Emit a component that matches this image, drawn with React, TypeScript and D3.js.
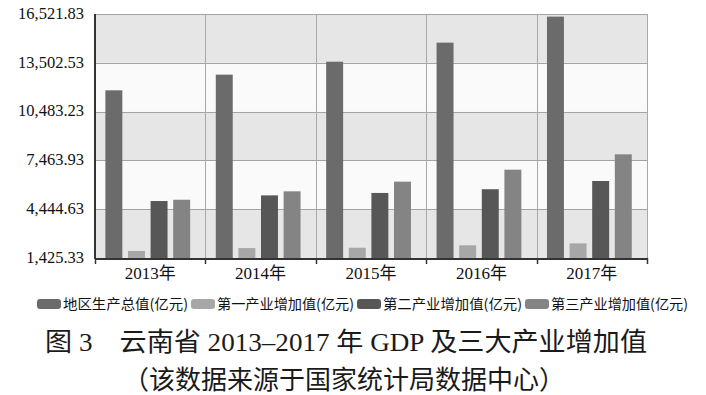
import { useEffect, useRef } from "react"
import * as d3 from "d3"

// values (亿元)
const categories = ["2013年", "2014年", "2015年", "2016年", "2017年"]
const seriesNames = ["地区生产总值(亿元)", "第一产业增加值(亿元)", "第二产业增加值(亿元)", "第三产业增加值(亿元)"]
const gdp = [11800, 12770, 13570, 14750, 16360]
const primary = [1860, 2040, 2060, 2210, 2330]
const secondary = [4950, 5300, 5450, 5680, 6190]
const tertiary = [5030, 5550, 6150, 6890, 7840]
const yTicks = [1425.33, 4444.63, 7463.93, 10483.23, 13502.53, 16521.83]

const seriesColors = ["#6b6b6b", "#a7a7a7", "#575757", "#848484"]
const serif = "'Liberation Serif', 'Noto Sans CJK SC', serif"
const cjk = "'Noto Sans CJK SC', 'Liberation Serif', sans-serif"

export default function App() {
  const svgRef = useRef<SVGSVGElement>(null)

  useEffect(() => {
    if (!svgRef.current) return
    const svg = d3.select(svgRef.current)
    svg.selectAll("*").remove()

    const width = 706
    const margin = { top: 14, right: 59, bottom: 137, left: 95 }
    const height = 395
    const innerW = width - margin.left - margin.right
    const innerH = height - margin.top - margin.bottom

    const series = [gdp, primary, secondary, tertiary]

    const x0 = d3.scaleBand().domain(categories).range([0, innerW]).padding(0)
    const x1 = d3
      .scaleBand()
      .domain(seriesNames)
      .range([x0.bandwidth() * 0.094, x0.bandwidth() * 0.862])
      .paddingInner(0.25)
      .paddingOuter(0)
    const y = d3.scaleLinear().domain([yTicks[0], yTicks[yTicks.length - 1]]).range([innerH, 0])

    const g = svg.append("g").attr("transform", `translate(${margin.left},${margin.top})`)

    // alternating background bands
    g.selectAll(".band")
      .data(d3.pairs(yTicks))
      .join("rect")
      .attr("x", 0)
      .attr("width", innerW)
      .attr("y", (d) => y(d[1]))
      .attr("height", (d) => y(d[0]) - y(d[1]))
      .attr("fill", (_, i) => (i % 2 === 0 ? "#e6e6e6" : "#fafafa"))

    // horizontal grid
    g.selectAll(".hgrid")
      .data(yTicks.slice(1))
      .join("line")
      .attr("x1", 0)
      .attr("x2", innerW)
      .attr("y1", (d) => Math.round(y(d)) + 0.5)
      .attr("y2", (d) => Math.round(y(d)) + 0.5)
      .attr("stroke", "#a3a3a3")
      .attr("stroke-width", 1)

    // vertical grid at category boundaries
    const bounds = categories.map((c) => x0(c)!).concat([innerW])
    g.selectAll(".vgrid")
      .data(bounds.slice(1))
      .join("line")
      .attr("x1", (d) => Math.round(d) + 0.5)
      .attr("x2", (d) => Math.round(d) + 0.5)
      .attr("y1", 0)
      .attr("y2", innerH)
      .attr("stroke", "#a8a8a8")
      .attr("stroke-width", 1)

    // bars
    const groups = g
      .selectAll(".grp")
      .data(categories)
      .join("g")
      .attr("transform", (c) => `translate(${x0(c)},0)`)

    groups
      .selectAll("rect")
      .data((c, ci) => seriesNames.map((s, si) => ({ s, si, v: series[si][ci] })))
      .join("rect")
      .attr("x", (d) => x1(d.s)!)
      .attr("width", x1.bandwidth())
      .attr("y", (d) => y(d.v))
      .attr("height", (d) => innerH - y(d.v))
      .attr("fill", (d) => seriesColors[d.si])

    // axis lines
    g.append("line")
      .attr("x1", 0)
      .attr("x2", 0)
      .attr("y1", 0)
      .attr("y2", innerH + 1)
      .attr("stroke", "#333")
      .attr("stroke-width", 2)
    g.append("line")
      .attr("x1", 0)
      .attr("x2", innerW)
      .attr("y1", innerH + 1)
      .attr("y2", innerH + 1)
      .attr("stroke", "#333")
      .attr("stroke-width", 2)
    g.selectAll(".xtick")
      .data(bounds)
      .join("line")
      .attr("x1", (d) => Math.round(d) + 0.5)
      .attr("x2", (d) => Math.round(d) + 0.5)
      .attr("y1", innerH)
      .attr("y2", innerH + 6)
      .attr("stroke", "#333")
      .attr("stroke-width", 1.5)

    // y tick labels
    const fmt = d3.format(",.2f")
    g.selectAll(".ylab")
      .data(yTicks)
      .join("text")
      .attr("x", -11)
      .attr("y", (d) => y(d) + 1)
      .attr("dominant-baseline", "middle")
      .attr("text-anchor", "end")
      .attr("font-family", serif)
      .attr("font-size", 16.5)
      .attr("fill", "#111")
      .text((d) => fmt(d))

    // x labels
    g.selectAll(".xlab")
      .data(categories)
      .join("text")
      .attr("x", (c) => x0(c)! + x0.bandwidth() / 2)
      .attr("y", innerH + 21)
      .attr("text-anchor", "middle")
      .attr("font-family", serif)
      .attr("font-size", 17)
      .attr("fill", "#111")
      .text((c) => c)

    // legend
    const legendWidths = [125, 137, 139, 137]
    let lx = 37
    seriesNames.forEach((name, i) => {
      svg
        .append("rect")
        .attr("x", lx)
        .attr("y", 299)
        .attr("width", 24)
        .attr("height", 10)
        .attr("rx", 3)
        .attr("fill", seriesColors[i])
      svg
        .append("text")
        .attr("x", lx + 26)
        .attr("y", 309)
        .attr("font-family", cjk)
        .attr("font-size", 14)
        .attr("fill", "#111")
        .attr("textLength", legendWidths[i])
        .attr("lengthAdjust", "spacingAndGlyphs")
        .text(name)
      lx += 26 + legendWidths[i] + 3
    })

    // caption
    svg
      .append("text")
      .attr("x", 45)
      .attr("y", 351)
      .attr("font-family", serif)
      .attr("font-size", 26)
      .attr("fill", "#1a1a1a")
      .attr("textLength", 602)
      .attr("lengthAdjust", "spacingAndGlyphs")
      .text("图 3\u3000云南省 2013–2017 年 GDP 及三大产业增加值")
    svg
      .append("text")
      .attr("x", 344)
      .attr("y", 389)
      .attr("text-anchor", "middle")
      .attr("font-family", cjk)
      .attr("font-size", 26)
      .attr("fill", "#1a1a1a")
      .text("（该数据来源于国家统计局数据中心）")
  }, [])

  return (
    <svg
      ref={svgRef}
      width={706}
      height={395}
      style={{ position: "absolute", left: 0, top: 0, background: "#fff" }}
    />
  )
}
